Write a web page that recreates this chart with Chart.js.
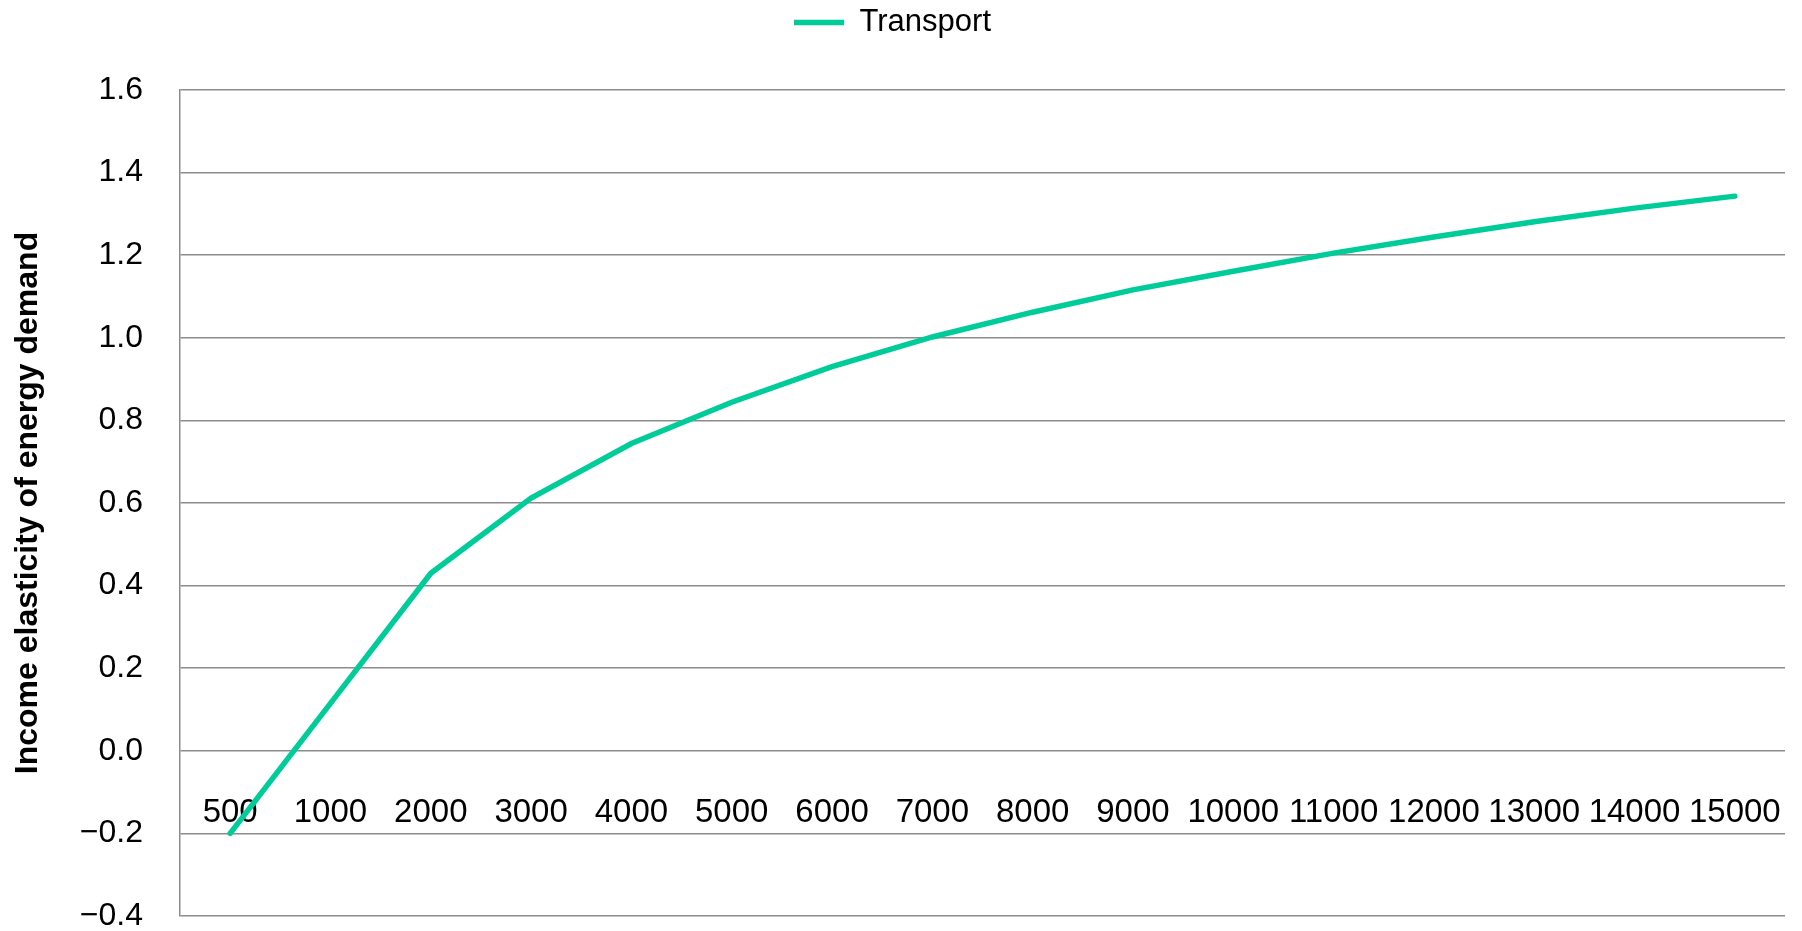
<!DOCTYPE html>
<html>
<head>
<meta charset="utf-8">
<title>Transport elasticity</title>
<script src="https://cdn.jsdelivr.net/npm/chart.js@4/dist/chart.umd.min.js"></script>
<style>
  body { margin: 0; background: #fff; }
</style>
</head>
<body>
<canvas id="grafico" width="1802" height="931"></canvas>
<script>
// Datos del grafico
const categorias = ['500', '1000', '2000', '3000', '4000', '5000', '6000', '7000', '8000',
    '9000', '10000', '11000', '12000', '13000', '14000', '15000'];
const transporte = [-0.2, 0.115, 0.43, 0.612, 0.744, 0.844, 0.93, 1.002, 1.062,
    1.116, 1.161, 1.205, 1.244, 1.281, 1.314, 1.343];
const ejeYMin = -0.4;
const ejeYMax = 1.6;
const ejeYPaso = 0.2;

const verde = '#00cc99';
const gris = '#8c8c8c';

// Espacio extra debajo de la leyenda
const espacioLeyenda = {
    id: 'espacioLeyenda',
    beforeInit(chart) {
        const fitOriginal = chart.legend.fit;
        chart.legend.fit = function () {
            fitOriginal.bind(chart.legend)();
            this.height += 42;
        };
    }
};

const ctx = document.getElementById('grafico').getContext('2d');
new Chart(ctx, {
    type: 'line',
    data: {
        labels: categorias,
        datasets: [{
            label: 'Transport',
            data: transporte,
            borderColor: verde,
            backgroundColor: verde,
            borderWidth: 5.5,
            borderCapStyle: 'round',
            pointRadius: 0,
            tension: 0,
            fill: false
        }]
    },
    options: {
        responsive: false,
        animation: false,
        layout: { padding: { top: 0, left: 0, right: 17, bottom: 15 } },
        plugins: {
            tooltip: { enabled: false },
            legend: {
                position: 'top',
                labels: {
                    usePointStyle: true,
                    pointStyle: 'line',
                    pointStyleWidth: 50,
                    padding: 7,
                    color: '#000',
                    font: { family: 'Liberation Sans', size: 31 }
                }
            }
        },
        scales: {
            x: {
                type: 'category',
                offset: true,
                position: { y: 0 },
                afterFit(scale) { scale.paddingLeft = 0; scale.paddingRight = 0; },
                grid: { display: false, drawTicks: false },
                border: { display: false },
                ticks: {
                    autoSkip: false,
                    maxRotation: 0,
                    minRotation: 0,
                    padding: 42,
                    color: '#000',
                    font: { family: 'Liberation Sans', size: 33 }
                }
            },
            y: {
                min: ejeYMin,
                max: ejeYMax,
                afterFit(scale) {
                    scale.width = 180;
                    scale.paddingTop = 0;
                    scale.paddingBottom = 0;
                },
                grid: { color: gris, lineWidth: 1.5, drawTicks: false },
                border: { display: true, color: gris, width: 1.5 },
                ticks: {
                    stepSize: ejeYPaso,
                    padding: 37,
                    color: '#000',
                    font: { family: 'Liberation Sans', size: 32 },
                    callback: v => (v < -1e-9 ? '\u2212' : '') + Math.abs(v).toFixed(1)
                },
                title: {
                    display: true,
                    text: 'Income elasticity of energy demand',
                    color: '#000',
                    padding: { top: 9, bottom: 0 },
                    font: { family: 'Liberation Sans', size: 32, weight: 'bold' }
                }
            }
        }
    },
    plugins: [espacioLeyenda]
});
</script>
</body>
</html>
